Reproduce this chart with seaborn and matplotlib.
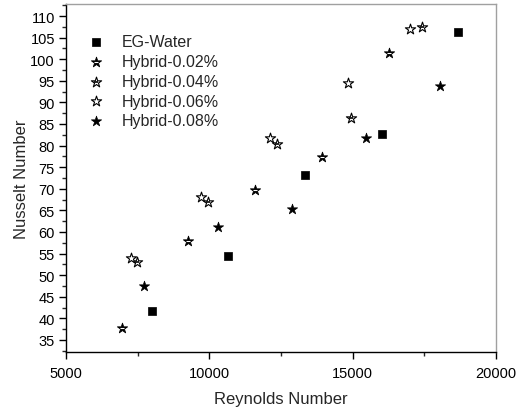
import numpy as np
import pandas as pd
import matplotlib
matplotlib.use("Agg")
import matplotlib.pyplot as plt
from matplotlib.ticker import MultipleLocator
import seaborn as sns

# Reynolds / Nusselt measurements per fluid
series_names = ["EG-Water", "Hybrid-0.02%", "Hybrid-0.04%", "Hybrid-0.06%", "Hybrid-0.08%"]
re_eg = [7990, 10660, 13340, 16020, 18680]
nu_eg = [41.8, 54.4, 73.2, 82.7, 106.2]
re_h002 = [6940, 9270, 11590, 13940, 16260]
nu_h002 = [37.7, 58.0, 69.7, 77.4, 101.4]
re_h004 = [7465, 9940, 12350, 14930, 17430]
nu_h004 = [53.1, 67.0, 80.4, 86.3, 107.5]
re_h006 = [7270, 9710, 12115, 14850, 17020]
nu_h006 = [54.0, 68.2, 81.8, 94.5, 107.0]
re_h008 = [7720, 10290, 12880, 15475, 18055]
nu_h008 = [47.4, 61.2, 65.2, 81.8, 93.7]

x_ticks = [5000, 10000, 15000, 20000]
y_ticks = list(range(35, 111, 5))

sns.set_theme(style="white")
plt.rcParams["font.family"] = ["Liberation Sans", "DejaVu Sans"]

fig = plt.figure(figsize=(5.16, 4.10), dpi=100)
ax = fig.add_axes([0.128, 0.139, 0.833, 0.849])

frames = {
    "EG-Water": (re_eg, nu_eg),
    "Hybrid-0.02%": (re_h002, nu_h002),
    "Hybrid-0.04%": (re_h004, nu_h004),
    "Hybrid-0.06%": (re_h006, nu_h006),
    "Hybrid-0.08%": (re_h008, nu_h008),
}

star_s = 60
handles = []
for name in series_names:
    re_v, nu_v = frames[name]
    df = pd.DataFrame({"Re": re_v, "Nu": nu_v})
    if name == "EG-Water":
        sns.scatterplot(data=df, x="Re", y="Nu", marker="s", s=40, color="black",
                        edgecolor="black", linewidth=0.5, ax=ax)
        handles.append(ax.collections[-1])
    elif name == "Hybrid-0.02%":
        sns.scatterplot(data=df, x="Re", y="Nu", marker="*", s=star_s, color="black",
                        edgecolor="black", linewidth=0.6, ax=ax)
        h1 = ax.collections[-1]
        sns.scatterplot(data=df, x="Re", y="Nu", marker="_", s=8, color="white",
                        linewidth=0.8, ax=ax)
        h2 = ax.collections[-1]
        handles.append((h1, h2))
    elif name == "Hybrid-0.04%":
        sns.scatterplot(data=df, x="Re", y="Nu", marker="*", s=star_s, facecolor="white",
                        edgecolor="black", linewidth=0.8, ax=ax)
        h1 = ax.collections[-1]
        sns.scatterplot(data=df, x="Re", y="Nu", marker="_", s=10, color="black",
                        linewidth=1.2, ax=ax)
        h2 = ax.collections[-1]
        handles.append((h1, h2))
    elif name == "Hybrid-0.06%":
        sns.scatterplot(data=df, x="Re", y="Nu", marker="*", s=star_s, facecolor="white",
                        edgecolor="black", linewidth=0.8, ax=ax)
        handles.append(ax.collections[-1])
    else:
        sns.scatterplot(data=df, x="Re", y="Nu", marker="*", s=star_s, color="black",
                        edgecolor="black", linewidth=0.5, ax=ax)
        handles.append(ax.collections[-1])

ax.set_xlim(5000, 20000)
ax.set_ylim(32.2, 112.8)
ax.set_xticks(x_ticks)
ax.set_yticks(y_ticks)
ax.xaxis.set_minor_locator(MultipleLocator(2500))
ax.yaxis.set_minor_locator(MultipleLocator(2.5))
ax.tick_params(axis="both", which="major", direction="out", length=5, width=1,
               labelsize=10.5, colors="black")
ax.tick_params(axis="x", which="major", pad=5)
ax.tick_params(axis="y", which="major", pad=3)
ax.tick_params(axis="both", which="minor", direction="out", length=3, width=1)
ax.tick_params(top=False, right=False, which="both")
ax.tick_params(bottom=True, left=True, which="both")

for side in ("left", "bottom"):
    ax.spines[side].set_color("black")
    ax.spines[side].set_linewidth(1.0)
for side in ("top", "right"):
    ax.spines[side].set_color("#a0a0a0")
    ax.spines[side].set_linewidth(1.0)

ax.set_xlabel("Reynolds Number", fontsize=12, labelpad=8)
ax.set_ylabel("Nusselt Number", fontsize=12, labelpad=1)

leg = ax.legend(handles, series_names, loc="upper left", frameon=False, fontsize=11.5,
                bbox_to_anchor=(0.047, 0.913), handletextpad=1.04, labelspacing=0.30,
                borderaxespad=0.0, borderpad=0.0, handlelength=1.2)

fig.savefig("out.png", dpi=100)
